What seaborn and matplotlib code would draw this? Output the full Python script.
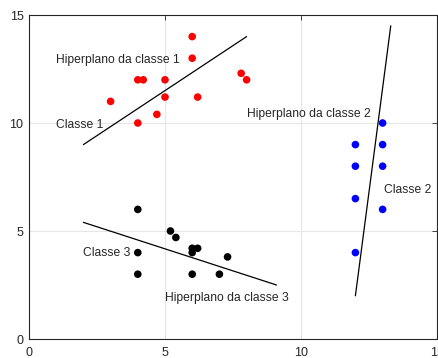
import matplotlib
matplotlib.use("Agg")
import matplotlib.pyplot as plt
import seaborn as sns
import pandas as pd

# Class 1 (red)
c1_x = [6, 6, 4, 4.2, 5, 5, 6.2, 3, 4.7, 4, 7.8, 8]
c1_y = [14, 13, 12, 12, 12, 11.2, 11.2, 11, 10.4, 10, 12.3, 12]
# Class 2 (blue)
c2_x = [13, 12, 13, 12, 13, 12, 13, 12]
c2_y = [10, 9, 9, 8, 8, 6.5, 6, 4]
# Class 3 (black)
c3_x = [4, 5.2, 5.4, 6, 6.2, 6, 4, 7.3, 4, 6, 7]
c3_y = [6, 5, 4.7, 4.2, 4.2, 4, 4, 3.8, 3, 3, 3]

# Hyperplanes
h1_x = [2, 8]
h1_y = [9, 14]
h2_x = [12, 13.3]
h2_y = [2, 14.5]
h3_x = [2, 9.1]
h3_y = [5.4, 2.5]

labels = ["Hiperplano da classe 1", "Classe 1", "Hiperplano da classe 2",
          "Classe 2", "Classe 3", "Hiperplano da classe 3"]
label_x = [1, 1, 8, 13.05, 2, 5]
label_y = [12.9, 9.9, 10.4, 6.9, 4.0, 1.9]

xticks = [0, 5, 10, 15]
yticks = [0, 5, 10, 15]

sns.set_style("white")
plt.rcParams['font.family'] = ['Liberation Sans', 'DejaVu Sans']

fig = plt.figure(figsize=(4.39, 3.58), dpi=100)
ax = fig.add_axes([29/439, 19/358, 408/439, 324/358])

pts = pd.concat([
    pd.DataFrame({"x": c1_x, "y": c1_y, "c": "1"}),
    pd.DataFrame({"x": c2_x, "y": c2_y, "c": "2"}),
    pd.DataFrame({"x": c3_x, "y": c3_y, "c": "3"}),
])
sns.scatterplot(data=pts, x="x", y="y", hue="c",
                palette={"1": "#ff0000", "2": "#0000ff", "3": "#000000"},
                s=30, linewidth=0, legend=False, ax=ax, zorder=3)

for hx, hy in [(h1_x, h1_y), (h2_x, h2_y), (h3_x, h3_y)]:
    sns.lineplot(x=hx, y=hy, sort=False, estimator=None, color="black",
                 linewidth=0.9, ax=ax, zorder=2)

for t, tx, ty in zip(labels, label_x, label_y):
    ax.text(tx, ty, t, ha="left", va="center", fontsize=8.7, color="#262626")

ax.set_xlim(0, 15)
ax.set_ylim(0, 15)
ax.set_xticks(xticks)
ax.set_yticks(yticks)
ax.set_xlabel("")
ax.set_ylabel("")
ax.grid(True, color="#e6e6e6", linewidth=0.8)
ax.set_axisbelow(True)
ax.tick_params(direction="in", length=3.5, width=0.6, colors="#262626",
               labelsize=9, top=True, right=True)
ax.tick_params(axis="x", pad=6)
ax.tick_params(axis="y", pad=4)
for s in ax.spines.values():
    s.set_visible(True)
    s.set_color("#262626")
    s.set_linewidth(0.8)

fig.savefig("out.png", dpi=100)
